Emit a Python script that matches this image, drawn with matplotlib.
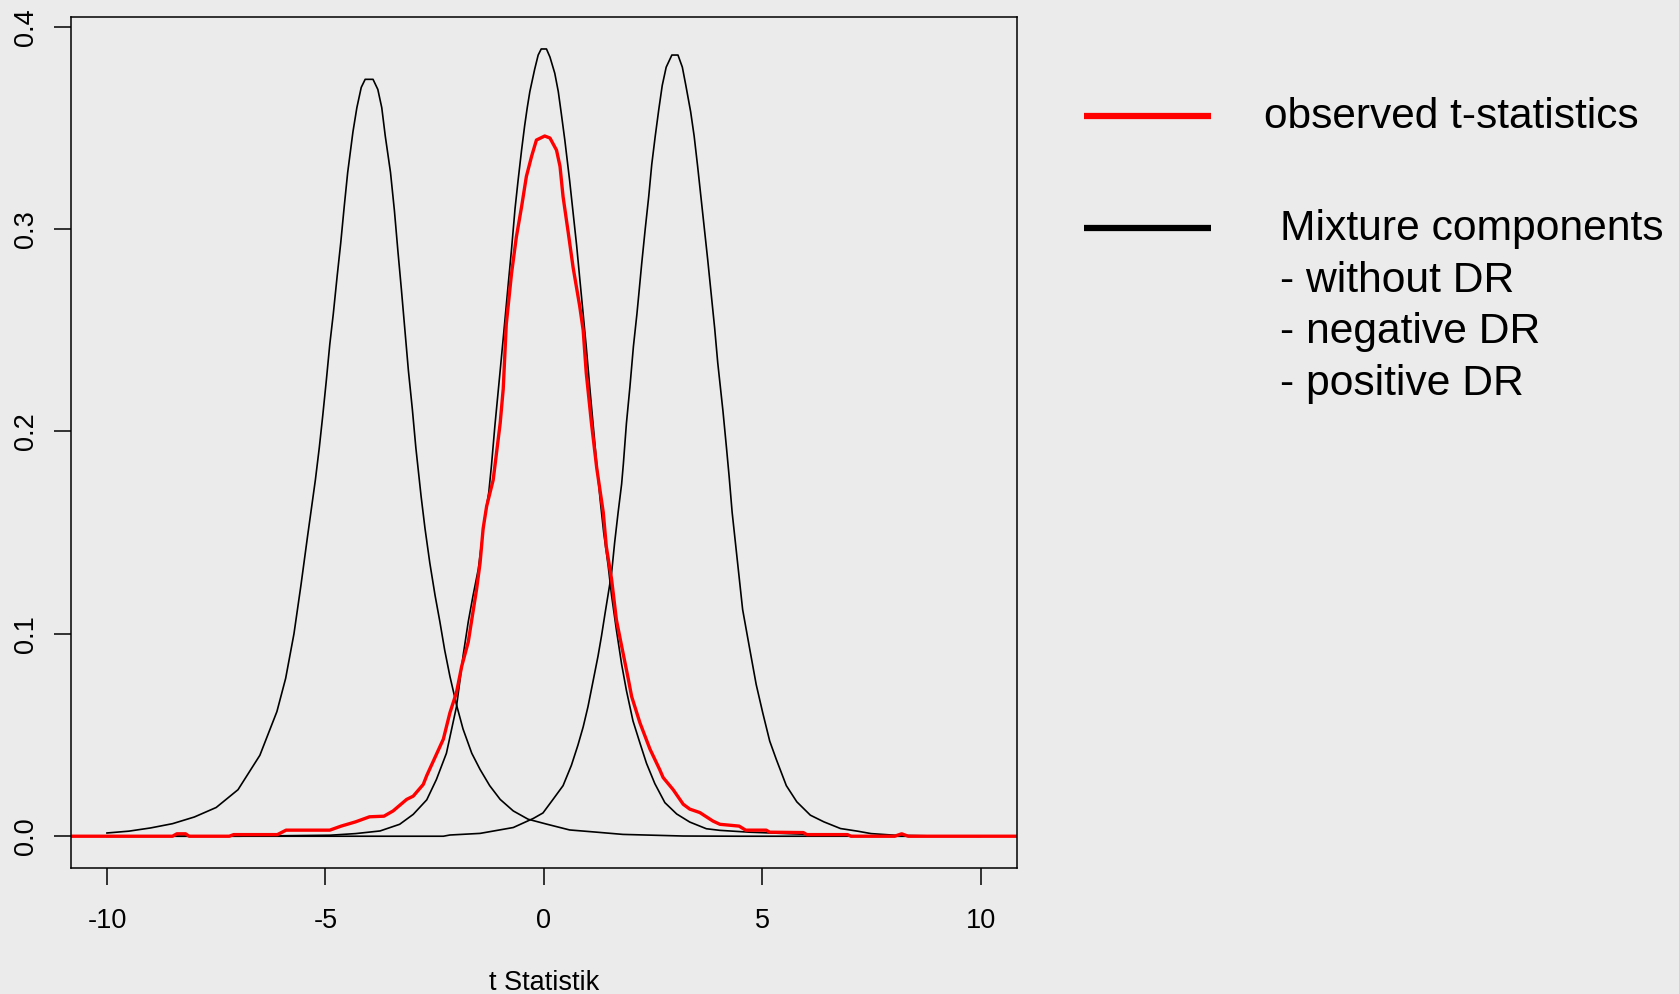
import matplotlib
matplotlib.use("Agg")
import matplotlib.pyplot as plt
from matplotlib.lines import Line2D

# ---------------- data ----------------
# observed t-statistics (red)
obs_x = [-10.9, -8.5, -8.4, -8.2, -8.12, -7.2, -7.1, -6.1, -5.9, -4.9, -4.64, -4.31,
         -3.99, -3.66, -3.45, -3.14, -2.99, -2.76, -2.68, -2.30, -2.15, -2.0, -1.88,
         -1.73, -1.65, -1.54, -1.46, -1.39, -1.31, -1.16, -1.0, -0.93, -0.86, -0.74,
         -0.63, -0.51, -0.40, -0.28, -0.17, 0.02, 0.14, 0.29, 0.37, 0.44, 0.56, 0.67,
         0.82, 0.90, 0.97, 1.09, 1.21, 1.36, 1.43, 1.55, 1.66, 1.78, 1.93, 2.01, 2.20,
         2.43, 2.65, 2.73, 2.96, 3.19, 3.34, 3.57, 3.87, 4.03, 4.47, 4.62, 5.09, 5.17,
         5.94, 6.02, 6.95, 7.03, 8.03, 8.19, 8.34, 10.9]
obs_y = [0, 0, 0.0012, 0.0012, 0, 0, 0.0008, 0.0008, 0.003, 0.003, 0.005, 0.0071,
         0.0096, 0.0099, 0.0125, 0.0182, 0.0198, 0.0256, 0.030, 0.048, 0.061, 0.071, 0.084,
         0.096, 0.107, 0.122, 0.135, 0.152, 0.163, 0.176, 0.204, 0.221, 0.253, 0.278,
         0.296, 0.311, 0.326, 0.336, 0.344, 0.346, 0.345, 0.339, 0.331, 0.316, 0.298, 0.281,
         0.262, 0.250, 0.229, 0.204, 0.182, 0.160, 0.143, 0.127, 0.107, 0.094, 0.078, 0.069, 0.056,
         0.043, 0.033, 0.029, 0.023, 0.0158, 0.0134, 0.0117, 0.0075, 0.0059, 0.005, 0.003, 0.003, 0.002,
         0.0018, 0.0008, 0.0008, 0, 0, 0.0012, 0, 0]

# mixture component: negative DR (centred near -4)
neg_x = [-10.0, -9.5, -9.0, -8.5, -8.0, -7.5, -7.0, -6.5, -6.11, -5.91, -5.72, -5.56,
         -5.41, -5.23, -5.14, -5.06, -4.98, -4.90, -4.82, -4.73, -4.65, -4.57, -4.49,
         -4.37, -4.28, -4.18, -4.09, -3.91, -3.80, -3.71, -3.63, -3.51, -3.42, -3.34, -3.26,
         -3.18, -3.10, -3.01, -2.93, -2.81, -2.72, -2.61, -2.49, -2.38, -2.27, -2.15,
         -2.0, -1.85, -1.65, -1.46, -1.24, -1.0, -0.70, -0.36, 0.06, 0.37, 0.59, 1.21,
         1.81, 3.19, 4.5, 10.0]
neg_y = [0.0016, 0.0025, 0.0041, 0.0062, 0.0095, 0.0142, 0.023, 0.040, 0.0616, 0.078, 0.100, 0.124,
         0.148, 0.176, 0.192, 0.208, 0.225, 0.243, 0.258, 0.277, 0.293, 0.311, 0.328,
         0.348, 0.360, 0.370, 0.374, 0.374, 0.369, 0.360, 0.346, 0.328, 0.309, 0.289, 0.270,
         0.250, 0.230, 0.211, 0.192, 0.168, 0.152, 0.135, 0.119, 0.106, 0.092, 0.079,
         0.065, 0.053, 0.041, 0.033, 0.025, 0.0182, 0.0125, 0.0084, 0.006, 0.0043, 0.0031, 0.002,
         0.0009, 0.0001, 0, 0]

# mixture component: without DR (centred at 0)
null_x = [-10.0, -7.0, -4.89, -4.31, -3.75, -3.30, -2.99, -2.68, -2.46, -2.23, -2.11, -2.0,
          -1.92, -1.85, -1.73, -1.62, -1.50, -1.43, -1.35, -1.26, -1.20, -1.12, -1.0,
          -0.93, -0.81, -0.74, -0.66, -0.59, -0.51, -0.44, -0.38, -0.32, -0.21, -0.13,
          -0.06, 0.06, 0.14, 0.25, 0.33, 0.40, 0.48, 0.59, 0.67, 0.75, 0.82, 0.90, 0.97, 1.05,
          1.13, 1.21, 1.29, 1.37, 1.47, 1.55, 1.66, 1.78, 1.89, 2.04, 2.20, 2.35, 2.54,
          2.77, 3.04, 3.34, 3.72, 4.03, 4.70, 5.94, 6.72, 7.5, 10.0]
null_y = [0, 0, 0.0005, 0.0013, 0.0026, 0.0059, 0.0108, 0.018, 0.028, 0.041, 0.053, 0.064,
          0.077, 0.089, 0.106, 0.119, 0.132, 0.144, 0.158, 0.170, 0.183, 0.203, 0.230,
          0.246, 0.274, 0.290, 0.310, 0.324, 0.339, 0.351, 0.360, 0.368, 0.379, 0.386,
          0.389, 0.389, 0.385, 0.377, 0.368, 0.357, 0.344, 0.324, 0.308, 0.292, 0.276, 0.258, 0.242, 0.222,
          0.203, 0.184, 0.166, 0.150, 0.134, 0.119, 0.102, 0.085, 0.072, 0.057, 0.046, 0.036, 0.026,
          0.0166, 0.011, 0.007, 0.0037, 0.0029, 0.0020, 0.0010, 0.0004, 0, 0]

# mixture component: positive DR (centred near 3)
pos_x = [-10.0, -2.3, -2.15, -1.46, -0.70, -0.24, -0.02, 0.21, 0.44, 0.63, 0.78, 0.90,
         1.01, 1.13, 1.24, 1.32, 1.40, 1.55, 1.62, 1.70, 1.78, 1.82, 1.89, 1.97, 2.05,
         2.13, 2.17, 2.24, 2.32, 2.40, 2.47, 2.55, 2.63, 2.71, 2.80, 2.93, 3.07, 3.17, 3.25,
         3.36, 3.44, 3.52, 3.60, 3.67, 3.75, 3.83, 3.91, 3.98, 4.10, 4.18, 4.24, 4.31,
         4.47, 4.55, 4.70, 4.86, 5.01, 5.17, 5.32, 5.55, 5.79, 6.10, 6.41, 6.79, 7.18,
         7.49, 8.03, 9.0, 10.0]
pos_y = [0, 0, 0.0006, 0.0014, 0.0043, 0.0088, 0.0115, 0.0182, 0.025, 0.035, 0.045, 0.054,
         0.064, 0.077, 0.089, 0.099, 0.110, 0.130, 0.145, 0.160, 0.174, 0.184, 0.204, 0.222, 0.242,
         0.258, 0.267, 0.283, 0.300, 0.316, 0.332, 0.346, 0.359, 0.371, 0.380, 0.386, 0.386, 0.380, 0.371,
         0.358, 0.346, 0.331, 0.315, 0.301, 0.285, 0.268, 0.251, 0.234, 0.210, 0.192, 0.178, 0.160,
         0.128, 0.112, 0.094, 0.075, 0.061, 0.047, 0.038, 0.025, 0.017, 0.0104, 0.0071, 0.0038, 0.0025,
         0.0013, 0.0005, 0.0001, 0]

x_ticks = [-10, -5, 0, 5, 10]
x_tick_labels = ["-10", "-5", "0", "5", "10"]
y_ticks = [0.0, 0.1, 0.2, 0.3, 0.4]
y_tick_labels = ["0.0", "0.1", "0.2", "0.3", "0.4"]
x_label = "t Statistik"
legend_observed = "observed t-statistics"
legend_mixture = ["Mixture components", "- without DR", "- negative DR", "- positive DR"]

# ---------------- figure ----------------
BG = "#EBEBEB"
W, H = 1679, 994
plt.rcParams['font.family'] = ['Liberation Sans', 'DejaVu Sans']

fig = plt.figure(figsize=(W / 100, H / 100), dpi=100, facecolor=BG)
ax = fig.add_axes([70.7 / W, 1 - 868 / H, (1017 - 70.7) / W, (868 - 17) / H])
ax.set_facecolor(BG)

for cx, cy in [(neg_x, neg_y), (null_x, null_y), (pos_x, pos_y)]:
    ax.plot(cx, cy, color="black", lw=1.2)
ax.plot(obs_x, obs_y, color="#FF0000", lw=2.4, solid_capstyle="butt")

ax.set_xlim(-10.83, 10.83)
ax.set_ylim(-0.0157, 0.4048)

ax.set_xticks(x_ticks)
ax.set_xticklabels(x_tick_labels)
ax.set_yticks(y_ticks)
ax.set_yticklabels(y_tick_labels, rotation=90, va="center")
ax.tick_params(axis="both", length=12.5, width=1.1, labelsize=19.5, color="black")
ax.tick_params(axis="x", pad=16.5)
ax.tick_params(axis="y", pad=10)
for s in ax.spines.values():
    s.set_linewidth(1.1)
ax.set_xlabel(x_label, fontsize=19.5, labelpad=26)

# legend drawn in figure pixel coordinates
def fx(px):
    return px / W

def fy(py):
    return 1 - py / H

fig.add_artist(Line2D([fx(1084), fx(1211)], [fy(116), fy(116)], color="#FF0000", lw=4.5,
                      solid_capstyle="butt"))
fig.add_artist(Line2D([fx(1084), fx(1211)], [fy(228), fy(228)], color="black", lw=4.5,
                      solid_capstyle="butt"))
fig.text(fx(1264), fy(128), legend_observed, fontsize=30.5, va="baseline", ha="left")
baselines = [240, 291.5, 343, 394.5]
for txt, b in zip(legend_mixture, baselines):
    fig.text(fx(1280), fy(b), txt, fontsize=30.7, va="baseline", ha="left")

fig.savefig("out.png", dpi=100, facecolor=BG)
